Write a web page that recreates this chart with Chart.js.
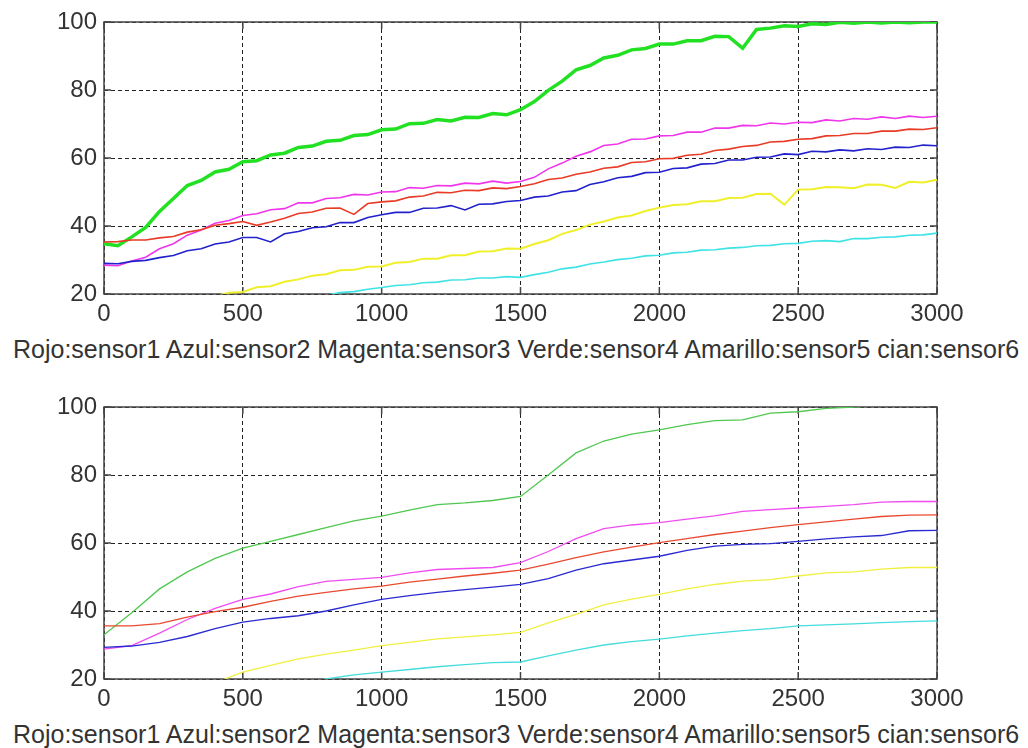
<!DOCTYPE html>
<html>
<head>
<meta charset="utf-8">
<script src="https://cdn.jsdelivr.net/npm/chart.js@4"></script>
<style>
  body { margin: 0; background: #fff; width: 1028px; height: 748px; overflow: hidden; position: relative; }
  .plot { position: absolute; left: 0; }
  .caption { position: absolute; left: 13px; font-family: "Liberation Sans", Arial, sans-serif; font-size: 25px; line-height: 25px; color: #333; white-space: nowrap; }
</style>
</head>
<body>
<canvas id="topChart" class="plot" width="1028" height="330" style="top:0"></canvas>
<div class="caption" style="top:337px">Rojo:sensor1 Azul:sensor2 Magenta:sensor3 Verde:sensor4 Amarillo:sensor5 cian:sensor6</div>
<canvas id="bottomChart" class="plot" width="1028" height="330" style="top:385px"></canvas>
<div class="caption" style="top:722px">Rojo:sensor1 Azul:sensor2 Magenta:sensor3 Verde:sensor4 Amarillo:sensor5 cian:sensor6</div>

<script>
// axis ticks
const xTicks = [0, 500, 1000, 1500, 2000, 2500, 3000];
const yTicks = [20, 40, 60, 80, 100];

// raw readings (top plot), sample every 50
const xsTop = [0, 50, 100, 150, 200, 250, 300, 350, 400, 450, 500, 550, 600, 650, 700, 750, 800, 850, 900, 950,
  1000, 1050, 1100, 1150, 1200, 1250, 1300, 1350, 1400, 1450, 1500, 1550, 1600, 1650, 1700, 1750, 1800, 1850, 1900, 1950,
  2000, 2050, 2100, 2150, 2200, 2250, 2300, 2350, 2400, 2450, 2500, 2550, 2600, 2650, 2700, 2750, 2800, 2850, 2900, 2950, 3000];

const rojoTop = [35.3, 35.4, 35.9, 35.9, 36.5, 36.9, 38.2, 38.9, 40.2, 40.7, 41.3, 40.2, 41.2, 42.3, 43.7, 44.1, 45.2, 45.3, 43.4, 46.6,
  47.1, 47.4, 48.5, 48.8, 49.9, 49.8, 50.5, 50.4, 51.2, 51.0, 51.6, 52.4, 53.7, 54.1, 55.2, 55.9, 57.0, 57.4, 58.7, 58.9,
  59.8, 59.9, 60.8, 61.1, 62.2, 62.6, 63.4, 63.7, 64.7, 64.9, 65.5, 65.7, 66.5, 66.6, 67.2, 67.2, 67.9, 67.9, 68.5, 68.4, 68.9];
const azulTop = [29.0, 28.9, 29.6, 29.9, 30.7, 31.3, 32.7, 33.3, 34.7, 35.3, 36.6, 36.6, 35.3, 37.7, 38.4, 39.5, 39.8, 41.0, 41.0, 42.5,
  43.3, 44.0, 44.0, 45.2, 45.3, 46.0, 44.7, 46.4, 46.5, 47.2, 47.5, 48.5, 48.8, 50.0, 50.4, 52.2, 53.0, 54.2, 54.6, 55.7,
  55.8, 56.9, 57.1, 58.2, 58.4, 59.4, 59.4, 60.2, 60.3, 61.2, 61.0, 62.0, 61.8, 62.4, 62.1, 62.7, 62.5, 63.2, 63.1, 63.8, 63.6];
const magentaTop = [28.5, 28.3, 29.7, 30.8, 33.3, 34.8, 37.3, 38.8, 40.8, 41.6, 43.1, 43.6, 44.8, 45.1, 46.8, 46.8, 48.1, 48.3, 49.3, 49.1,
  50.0, 50.1, 51.3, 51.1, 51.9, 51.8, 52.6, 52.4, 53.2, 52.6, 53.1, 54.3, 56.8, 58.5, 60.5, 61.8, 63.7, 64.1, 65.5, 65.6,
  66.5, 66.6, 67.6, 67.6, 68.8, 68.8, 69.6, 69.5, 70.3, 70.0, 70.5, 70.4, 71.2, 70.9, 71.6, 71.4, 72.1, 71.6, 72.3, 71.9, 72.3];
const verdeTop = [34.8, 34.2, 36.8, 39.6, 44.3, 48.1, 51.9, 53.4, 55.9, 56.7, 58.9, 59.2, 60.9, 61.4, 63.1, 63.5, 64.9, 65.2, 66.6, 66.9,
  68.3, 68.5, 70.1, 70.2, 71.3, 70.9, 72.0, 71.9, 73.1, 72.7, 74.2, 76.6, 79.9, 82.6, 85.9, 87.2, 89.4, 90.2, 91.8, 92.2,
  93.5, 93.5, 94.5, 94.5, 95.8, 95.7, 92.3, 97.8, 98.2, 98.9, 98.7, 99.5, 99.3, 99.9, 99.6, 100, 99.7, 100, 99.8, 100, 100];
const amarilloTop = [null, null, null, null, null, null, null, 18.3, 19.3, 20.4, 20.6, 22.0, 22.3, 23.6, 24.3, 25.4, 25.8, 27.0, 27.1, 28.0,
  28.1, 29.2, 29.4, 30.4, 30.4, 31.4, 31.4, 32.5, 32.6, 33.4, 33.3, 34.7, 35.8, 37.7, 38.8, 40.4, 41.3, 42.5, 43.1, 44.4,
  45.4, 46.2, 46.4, 47.3, 47.3, 48.2, 48.3, 49.4, 49.5, 46.3, 50.7, 50.8, 51.5, 51.4, 51.1, 52.2, 52.1, 51.2, 53.0, 52.8, 53.6];
const cianTop = [null, null, null, null, null, null, null, null, null, null, null, null, null, null, null, 19.2, 19.6, 20.4, 20.7, 21.4,
  21.9, 22.5, 22.7, 23.3, 23.5, 24.1, 24.2, 24.7, 24.7, 25.1, 24.9, 25.7, 26.4, 27.4, 27.9, 28.8, 29.4, 30.1, 30.5, 31.2,
  31.4, 32.1, 32.3, 32.9, 33.0, 33.5, 33.7, 34.2, 34.3, 34.8, 34.9, 35.5, 35.7, 35.4, 36.3, 36.3, 36.7, 36.8, 37.3, 37.4, 37.9];

// filtered readings (bottom plot), sample every 100
const xsBottom = [0, 100, 200, 300, 400, 500, 600, 700, 800, 900, 1000, 1100, 1200, 1300, 1400, 1500,
  1600, 1700, 1800, 1900, 2000, 2100, 2200, 2300, 2400, 2500, 2600, 2700, 2800, 2900, 3000];

const rojoBottom = [35.6, 35.6, 36.3, 38.2, 39.8, 41.1, 42.8, 44.4, 45.5, 46.5, 47.3, 48.5, 49.4, 50.3, 51.1, 52.0,
  53.8, 55.7, 57.4, 58.8, 60.1, 61.3, 62.5, 63.5, 64.5, 65.4, 66.2, 67.0, 67.8, 68.2, 68.3];
const azulBottom = [29.3, 29.7, 30.8, 32.5, 34.8, 36.7, 37.8, 38.6, 40.0, 41.8, 43.4, 44.5, 45.5, 46.3, 47.0, 47.8,
  49.5, 52.0, 53.9, 55.0, 56.1, 57.8, 59.1, 59.6, 59.8, 60.5, 61.2, 61.8, 62.2, 63.6, 63.7];
const magentaBottom = [28.8, 29.8, 33.5, 37.5, 40.8, 43.4, 45.0, 47.2, 48.7, 49.3, 49.9, 51.2, 52.2, 52.5, 52.8, 54.2,
  57.5, 61.3, 64.2, 65.3, 66.0, 67.0, 68.0, 69.3, 69.8, 70.3, 70.8, 71.3, 72.0, 72.2, 72.2];
const verdeBottom = [33.0, 39.5, 46.5, 51.5, 55.5, 58.5, 60.5, 62.5, 64.5, 66.5, 67.9, 69.7, 71.3, 71.8, 72.5, 73.7,
  80.0, 86.5, 90.0, 92.0, 93.3, 94.8, 96.0, 96.2, 98.2, 98.6, 99.6, 100, 100.5, 101, 101];
const amarilloBottom = [null, null, null, null, 18.9, 22.0, 24.0, 25.9, 27.3, 28.5, 29.8, 30.8, 31.8, 32.4, 33.0, 33.7,
  36.5, 39.0, 41.8, 43.5, 44.9, 46.5, 47.8, 48.8, 49.2, 50.3, 51.2, 51.5, 52.3, 52.8, 52.8];
const cianBottom = [null, null, null, null, null, null, null, 18.8, 20.0, 21.2, 22.0, 22.8, 23.6, 24.2, 24.8, 25.0,
  26.8, 28.5, 30.0, 31.0, 31.7, 32.7, 33.5, 34.2, 34.8, 35.6, 35.9, 36.2, 36.6, 36.9, 37.1];

const FONT = '"Liberation Sans", Arial, sans-serif';

// matlab style box with inward ticks
const boxPlugin = {
  id: 'box',
  beforeDatasetsDraw(chart) {
    const ctx = chart.ctx;
    const a = chart.chartArea;
    const x = chart.scales.x, y = chart.scales.y;
    ctx.save();
    ctx.strokeStyle = '#444';
    ctx.lineWidth = 1.5;
    ctx.beginPath();
    x.ticks.forEach(t => {
      const px = x.getPixelForValue(t.value);
      ctx.moveTo(px, a.bottom); ctx.lineTo(px, a.bottom - 7);
      ctx.moveTo(px, a.top); ctx.lineTo(px, a.top + 7);
    });
    y.ticks.forEach(t => {
      const py = y.getPixelForValue(t.value);
      ctx.moveTo(a.left, py); ctx.lineTo(a.left + 7, py);
      ctx.moveTo(a.right, py); ctx.lineTo(a.right - 7, py);
    });
    ctx.stroke();
    ctx.strokeRect(a.left, a.top, a.right - a.left, a.bottom - a.top);
    ctx.restore();
  }
};

function series(xs, ys, color, width) {
  return {
    data: xs.map((x, i) => ({ x: x, y: ys[i] })),
    borderColor: color,
    borderWidth: width,
    pointRadius: 0,
    tension: 0,
    spanGaps: false
  };
}

function makeChart(id, datasets) {
  const ctx = document.getElementById(id).getContext('2d');
  return new Chart(ctx, {
    type: 'line',
    data: { datasets: datasets },
    options: {
      responsive: false,
      animation: false,
      devicePixelRatio: 1,
      layout: { padding: { top: 22, right: 91, bottom: 0, left: 0 } },
      plugins: { legend: { display: false }, tooltip: { enabled: false } },
      scales: {
        x: {
          type: 'linear',
          min: 0, max: 3000,
          afterBuildTicks: s => { s.ticks = xTicks.map(v => ({ value: v })); },
          afterFit: s => { s.height = 36; },
          grid: { color: '#222', lineWidth: 1, drawTicks: false },
          border: { display: false, dash: [4, 3] },
          ticks: { padding: 6, color: '#333', maxRotation: 0, font: { family: FONT, size: 24 },
            callback: v => String(v) }
        },
        y: {
          min: 20, max: 100,
          afterBuildTicks: s => { s.ticks = yTicks.map(v => ({ value: v })); },
          afterFit: s => { s.width = 104; },
          grid: { color: '#222', lineWidth: 1, drawTicks: false },
          border: { display: false, dash: [4, 3] },
          ticks: { padding: 7, color: '#333', font: { family: FONT, size: 24 },
            callback: v => String(v) }
        }
      }
    },
    plugins: [boxPlugin]
  });
}

makeChart('topChart', [
  series(xsTop, cianTop, '#3fe3e6', 1.6),
  series(xsTop, amarilloTop, '#f0f02a', 2),
  series(xsTop, azulTop, '#2222cc', 1.6),
  series(xsTop, rojoTop, '#e83a26', 1.6),
  series(xsTop, magentaTop, '#f035ea', 1.6),
  series(xsTop, verdeTop, '#22e022', 3.5)
]);

makeChart('bottomChart', [
  series(xsBottom, cianBottom, '#45dcdc', 1.3),
  series(xsBottom, amarilloBottom, '#f0f040', 1.3),
  series(xsBottom, azulBottom, '#2a2ad0', 1.3),
  series(xsBottom, rojoBottom, '#e84a30', 1.3),
  series(xsBottom, magentaBottom, '#f04cf0', 1.3),
  series(xsBottom, verdeBottom, '#50c850', 1.3)
]);
</script>
</body>
</html>
